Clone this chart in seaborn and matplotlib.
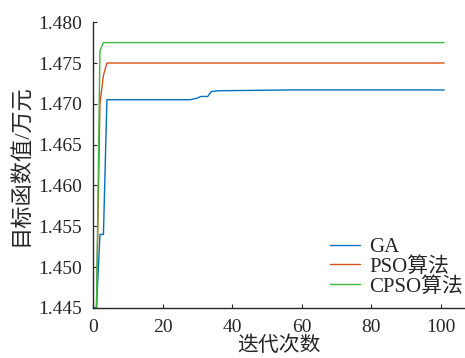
import numpy as np
import pandas as pd
import seaborn as sns
import matplotlib.pyplot as plt

# iteration-wise objective values
ga_iter = [0, 1, 2, 3, 4, 28, 30, 31, 33, 34, 36, 57, 101]
ga_val = [1.445, 1.445, 1.454, 1.454, 1.4705, 1.4705, 1.4707, 1.4709, 1.4709, 1.4715, 1.4716, 1.4717, 1.4717]

pso_iter = [1, 2, 3, 4, 101]
pso_val = [1.445, 1.4700, 1.4735, 1.4750, 1.4750]

cpso_iter = [1, 2, 3, 101]
cpso_val = [1.445, 1.4765, 1.4775, 1.4775]

labels = ['GA', 'PSO算法', 'CPSO算法']
colors = ['#0072BD', '#D95319', '#3DB83D']

df = pd.concat([
    pd.DataFrame({'iter': ga_iter, 'val': ga_val, 'alg': labels[0]}),
    pd.DataFrame({'iter': pso_iter, 'val': pso_val, 'alg': labels[1]}),
    pd.DataFrame({'iter': cpso_iter, 'val': cpso_val, 'alg': labels[2]}),
])

sns.set_style('ticks')
plt.rcParams['font.family'] = ['Liberation Serif', 'Noto Sans CJK SC']
plt.rcParams['xtick.direction'] = 'in'
plt.rcParams['ytick.direction'] = 'in'

fig = plt.figure(figsize=(4.65, 3.58), dpi=100)
ax = fig.add_axes([0.2, 0.14, 0.8, 0.798])

sns.lineplot(data=df, x='iter', y='val', hue='alg', palette=colors,
             linewidth=1.0, ax=ax, estimator=None, sort=False)

ax.set_xlim(0, 107)
ax.set_ylim(1.445, 1.480)
ax.set_xticks([0, 20, 40, 60, 80, 100])
ax.set_yticks(np.arange(1.445, 1.4801, 0.005))
ax.set_yticklabels([f'{v:.3f}' for v in np.arange(1.445, 1.4801, 0.005)])
ax.tick_params(labelsize=14, length=3, width=0.8)
ax.tick_params(axis='y', pad=8)
ax.tick_params(axis='x', pad=8)
ax.set_xlabel('迭代次数', fontsize=15, labelpad=0)
ax.set_ylabel('目标函数值/万元', fontsize=16, labelpad=4)
for s in ['top', 'right']:
    ax.spines[s].set_visible(False)
ax.spines['left'].set_linewidth(1.0)
ax.spines['bottom'].set_linewidth(1.0)

ax.legend(loc='lower right', frameon=False, fontsize=15, handlelength=1.45,
          borderpad=0.0, borderaxespad=0.0, labelspacing=0.0, handletextpad=0.45,
          bbox_to_anchor=(0.995, 0.04))

fig.savefig('out.png', dpi=100)
